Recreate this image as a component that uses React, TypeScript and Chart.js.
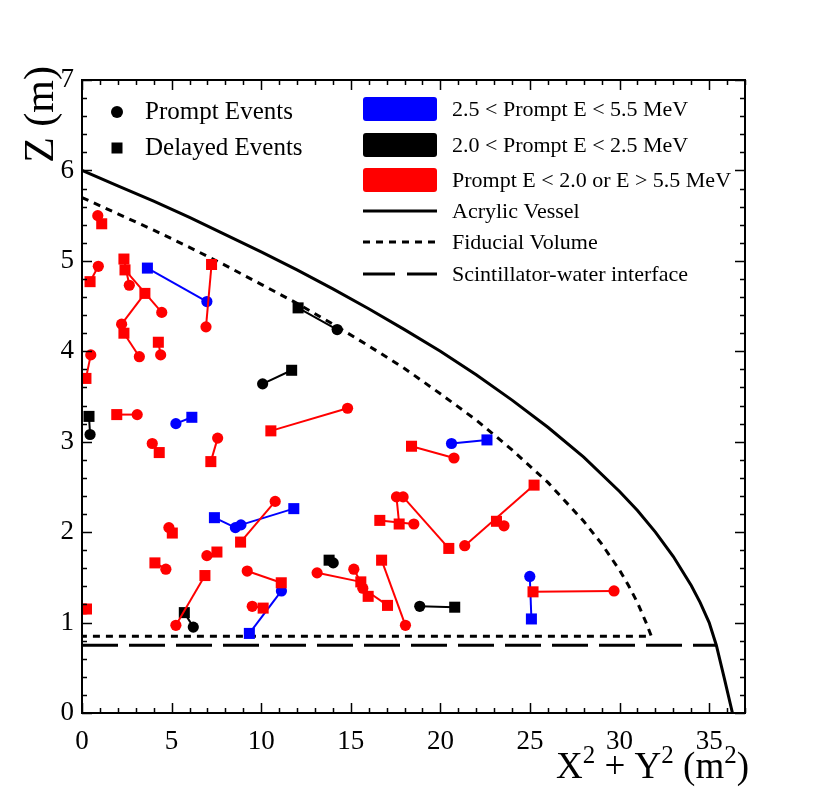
import React, { useEffect, useRef } from 'react';
import { Chart, registerables } from 'chart.js';
Chart.register(...registerables);

const FONT = '"Liberation Serif", "Times New Roman", serif';

// Each pair: [promptX, promptZ, delayedX, delayedZ]  (X in m^2, Z in m)
const bluePairs: number[][] = [
  [6.97, 4.55, 3.65, 4.92],
  [5.24, 3.2, 6.13, 3.27],
  [8.56, 2.05, 7.39, 2.16],
  [8.87, 2.08, 11.82, 2.26],
  [11.13, 1.35, 9.34, 0.88],
  [20.62, 2.98, 22.6, 3.02],
  [24.99, 1.51, 25.08, 1.04],
];

const blackPairs: number[][] = [
  [14.24, 4.24, 12.06, 4.48],
  [10.08, 3.64, 11.7, 3.79],
  [0.45, 3.08, 0.39, 3.28],
  [14.02, 1.66, 13.79, 1.69],
  [6.21, 0.95, 5.71, 1.11],
  [18.85, 1.18, 20.8, 1.17],
];

const redPairs: number[][] = [
  [0.88, 5.5, 1.1, 5.41],
  [0.91, 4.94, 0.45, 4.77],
  [2.64, 4.73, 2.34, 5.02],
  [4.45, 4.43, 2.4, 4.9],
  [2.21, 4.3, 3.51, 4.64],
  [3.2, 3.94, 2.34, 4.2],
  [4.39, 3.96, 4.26, 4.1],
  [0.49, 3.96, 0.22, 3.7],
  [6.92, 4.27, 7.23, 4.96],
  [3.08, 3.3, 1.94, 3.3],
  [3.92, 2.98, 4.31, 2.88],
  [7.57, 3.04, 7.19, 2.78],
  [14.82, 3.37, 10.54, 3.12],
  [10.78, 2.34, 8.85, 1.89],
  [4.85, 2.05, 5.04, 1.99],
  [6.97, 1.74, 7.53, 1.78],
  [4.68, 1.59, 4.07, 1.66],
  [5.24, 0.97, 6.86, 1.52],
  [9.22, 1.57, 11.12, 1.44],
  [9.5, 1.18, 10.11, 1.16],
  [0.17, 1.15, 0.25, 1.15],
  [13.12, 1.55, 15.56, 1.45],
  [15.17, 1.59, 15.97, 1.29],
  [15.67, 1.38, 17.05, 1.19],
  [18.05, 0.97, 16.72, 1.69],
  [17.55, 2.39, 17.7, 2.09],
  [18.52, 2.09, 16.62, 2.13],
  [17.92, 2.39, 20.47, 1.82],
  [20.76, 2.82, 18.39, 2.95],
  [21.36, 1.85, 25.23, 2.52],
  [23.55, 2.07, 23.13, 2.12],
  [29.69, 1.35, 25.17, 1.34],
];

// Acrylic vessel outline
const vesselX = [0, 2, 4, 6, 8, 10, 12, 14, 16, 18, 20, 22, 24, 26, 28, 30, 31, 32, 33, 34, 34.5, 35, 35.4, 35.85, 36.3];
const vesselZ = [6.0, 5.83, 5.66, 5.48, 5.29, 5.1, 4.9, 4.69, 4.47, 4.24, 4.0, 3.74, 3.46, 3.16, 2.83, 2.45, 2.24, 2.0, 1.73, 1.41, 1.22, 1.0, 0.75, 0.38, 0.0];

// Fiducial volume outline (sphere cap, then the bottom plane back to the axis)
const fiducialX = [0, 2, 4, 6, 8, 10, 12, 14, 16, 18, 20, 22, 24, 26, 28, 29, 30, 30.5, 31, 31.5, 31.77, 0];
const fiducialZ = [5.7, 5.52, 5.34, 5.15, 4.95, 4.74, 4.53, 4.3, 4.06, 3.81, 3.53, 3.24, 2.91, 2.55, 2.12, 1.87, 1.58, 1.41, 1.22, 0.99, 0.85, 0.85];

// Scintillator-water interface
const interfaceX = [0, 35.44];
const interfaceZ = [0.75, 0.75];

const xTickValues = [0, 5, 10, 15, 20, 25, 30, 35];
const yTickValues = [0, 1, 2, 3, 4, 5, 6, 7];

const BLUE = '#0000ff';
const BLACK = '#000000';
const RED = '#ff0000';

function pairDatasets(pairs: number[][], color: string) {
  return pairs.map((p) => ({
    data: [
      { x: p[0], y: p[1] },
      { x: p[2], y: p[3] },
    ],
    showLine: true,
    borderColor: color,
    backgroundColor: color,
    borderWidth: 2,
    pointStyle: ['circle', 'rect'],
    pointRadius: [5.6, 7.8],
    pointBorderWidth: 0,
    pointHoverRadius: [5.6, 7.8],
    order: 0,
  }));
}

function curve(xs: number[], zs: number[], dash: number[]) {
  return {
    data: xs.map((x, i) => ({ x, y: zs[i] })),
    showLine: true,
    borderColor: BLACK,
    borderWidth: 3,
    borderDash: dash,
    pointRadius: 0,
    tension: 0,
    order: 1,
  };
}

const decorPlugin = {
  id: 'decor',
  afterDatasetsDraw(chart: any) {
    const ctx = chart.ctx;
    const ca = chart.chartArea;
    const xs = chart.scales.x;
    const ys = chart.scales.y;
    ctx.save();
    // frame
    ctx.strokeStyle = BLACK;
    ctx.lineWidth = 2;
    ctx.setLineDash([]);
    ctx.strokeRect(ca.left, ca.top, ca.right - ca.left, ca.bottom - ca.top);
    // ticks
    ctx.lineWidth = 1.5;
    ctx.beginPath();
    for (let v = 0; v <= 37; v++) {
      const px = Math.round(xs.getPixelForValue(v)) + 0.5;
      const len = v % 5 === 0 ? 10 : 5;
      ctx.moveTo(px, ca.bottom);
      ctx.lineTo(px, ca.bottom - len);
      ctx.moveTo(px, ca.top);
      ctx.lineTo(px, ca.top + len);
    }
    for (let k = 0; k <= 35; k++) {
      const v = k * 0.2;
      const py = Math.round(ys.getPixelForValue(v)) + 0.5;
      const len = k % 5 === 0 ? 10 : 5;
      ctx.moveTo(ca.left, py);
      ctx.lineTo(ca.left + len, py);
      ctx.moveTo(ca.right, py);
      ctx.lineTo(ca.right - len, py);
    }
    ctx.stroke();

    // left legend (marker types)
    ctx.fillStyle = BLACK;
    ctx.beginPath();
    ctx.arc(117, 112, 6, 0, Math.PI * 2);
    ctx.fill();
    ctx.fillRect(111.5, 142.5, 11, 11);
    ctx.font = `25px ${FONT}`;
    ctx.textBaseline = 'middle';
    ctx.textAlign = 'left';
    ctx.fillText('Prompt Events', 145, 112);
    ctx.fillText('Delayed Events', 145, 148);

    // right legend
    const boxes = [
      { c: BLUE, y: 109, t: '2.5 < Prompt E < 5.5 MeV' },
      { c: BLACK, y: 145, t: '2.0 < Prompt E < 2.5 MeV' },
      { c: RED, y: 180, t: 'Prompt E < 2.0 or E > 5.5 MeV' },
    ];
    ctx.font = `22px ${FONT}`;
    boxes.forEach((b) => {
      ctx.fillStyle = b.c;
      ctx.beginPath();
      if (ctx.roundRect) ctx.roundRect(363, b.y - 12, 74, 24, 3);
      else ctx.rect(363, b.y - 12, 74, 24);
      ctx.fill();
      ctx.fillStyle = BLACK;
      ctx.fillText(b.t, 452, b.y + 1);
    });
    const lines = [
      { d: [] as number[], y: 211, t: 'Acrylic Vessel' },
      { d: [7, 6], y: 242, t: 'Fiducial Volume' },
      { d: [32, 12], y: 274, t: 'Scintillator-water interface' },
    ];
    lines.forEach((l) => {
      ctx.strokeStyle = BLACK;
      ctx.lineWidth = 3;
      ctx.setLineDash(l.d);
      ctx.beginPath();
      ctx.moveTo(363, l.y);
      ctx.lineTo(437, l.y);
      ctx.stroke();
      ctx.setLineDash([]);
      ctx.fillStyle = BLACK;
      ctx.fillText(l.t, 452, l.y + 1);
    });

    // axis titles
    ctx.fillStyle = BLACK;
    const big = 37;
    const sup = 25;
    const parts: [string, boolean][] = [
      ['X', false], ['2', true], [' + Y', false], ['2', true], [' (m', false], ['2', true], [')', false],
    ];
    let total = 0;
    parts.forEach(([s, isSup]) => {
      ctx.font = `${isSup ? sup : big}px ${FONT}`;
      total += ctx.measureText(s).width;
    });
    let cx = 749 - total;
    const base = 778;
    ctx.textBaseline = 'alphabetic';
    parts.forEach(([s, isSup]) => {
      ctx.font = `${isSup ? sup : big}px ${FONT}`;
      ctx.fillText(s, cx, isSup ? base - 15 : base);
      cx += ctx.measureText(s).width;
    });

    ctx.save();
    ctx.translate(53, 66);
    ctx.rotate(-Math.PI / 2);
    ctx.font = `42px ${FONT}`;
    ctx.textAlign = 'right';
    ctx.textBaseline = 'alphabetic';
    ctx.fillText('Z (m)', 0, 0);
    ctx.restore();

    ctx.restore();
  },
};

export default function App() {
  const ref = useRef<HTMLCanvasElement | null>(null);
  useEffect(() => {
    if (!ref.current) return;
    const datasets: any[] = [
      ...pairDatasets(redPairs, RED),
      ...pairDatasets(blackPairs, BLACK),
      ...pairDatasets(bluePairs, BLUE),
      curve(vesselX, vesselZ, []),
      curve(fiducialX, fiducialZ, [7, 6]),
      curve(interfaceX, interfaceZ, [36, 11]),
    ];
    const chart = new Chart(ref.current, {
      type: 'scatter',
      data: { datasets },
      plugins: [decorPlugin],
      options: {
        responsive: false,
        animation: false,
        layout: { padding: { top: 80, right: 85, left: 0, bottom: 0 } },
        plugins: { legend: { display: false }, tooltip: { enabled: false } },
        scales: {
          x: {
            type: 'linear',
            min: 0,
            max: 37,
            grid: { display: false, drawTicks: false },
            border: { display: false },
            afterBuildTicks: (s: any) => {
              s.ticks = xTickValues.map((v) => ({ value: v }));
            },
            afterFit: (s: any) => {
              s.height = 79;
            },
            ticks: {
              font: { family: FONT, size: 27 },
              color: BLACK,
              padding: 13,
              maxRotation: 0,
              autoSkip: false,
            },
          },
          y: {
            type: 'linear',
            min: 0,
            max: 7,
            grid: { display: false, drawTicks: false },
            border: { display: false },
            afterBuildTicks: (s: any) => {
              s.ticks = yTickValues.map((v) => ({ value: v }));
            },
            afterFit: (s: any) => {
              s.width = 82;
            },
            ticks: {
              font: { family: FONT, size: 27 },
              color: BLACK,
              padding: 8,
              autoSkip: false,
            },
          },
        },
      } as any,
    });
    return () => chart.destroy();
  }, []);
  return (
    <div style={{ position: 'absolute', left: 0, top: 0, width: 830, height: 792, background: '#fff' }}>
      <canvas ref={ref} width={830} height={792} style={{ width: 830, height: 792, display: 'block' }} />
    </div>
  );
}
